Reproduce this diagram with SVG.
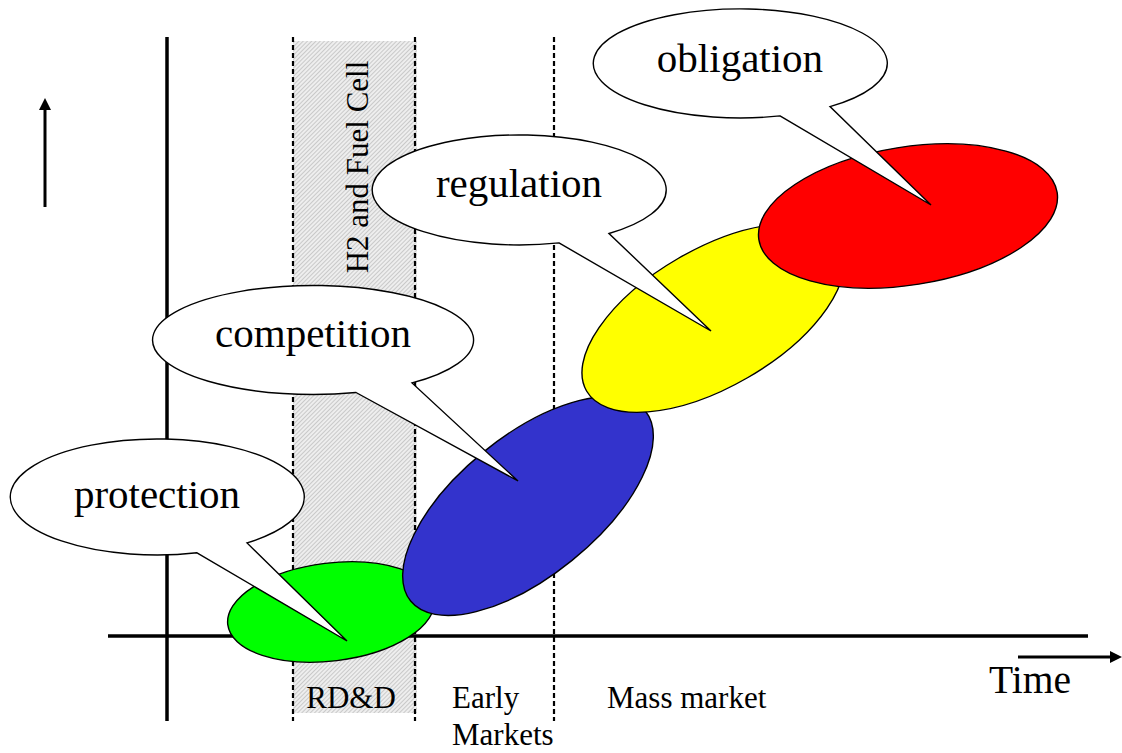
<svg xmlns="http://www.w3.org/2000/svg" width="1122" height="753" viewBox="0 0 1122 753">
<style>
.lbl{font-family:"Liberation Serif","Times New Roman",serif;fill:#000}
.big{font-size:41px;text-anchor:middle}
.small{font-size:31px}
.dash{stroke:#000;stroke-width:2.2;stroke-dasharray:5 3;fill:none}
.axis{stroke:#000;stroke-width:3.5;fill:none;stroke-linecap:butt}
.blob{stroke:#000;stroke-width:1.4}
.bubble{fill:#fff;stroke:#000;stroke-width:1.4;stroke-linejoin:miter}
.arrow{stroke:#000;stroke-width:3;fill:none}
</style>
<defs>
<pattern id="hatch" patternUnits="userSpaceOnUse" width="3" height="3" patternTransform="rotate(45)">
<rect width="3" height="3" fill="#eeeeee"/>
<line x1="0" y1="0" x2="0" y2="3" stroke="#aaaaaa" stroke-width="1.1"/>
</pattern>
<marker id="head" viewBox="0 0 12 12" refX="1" refY="6" markerWidth="12" markerHeight="12" markerUnits="userSpaceOnUse" orient="auto">
<path d="M0,0 L12,6 L0,12 z" fill="#000"/>
</marker>
</defs>
<rect width="1122" height="753" fill="#fff"/>

<g id="band">
<rect x="293" y="41" width="124" height="672" fill="url(#hatch)"/>
<text class="lbl small" text-anchor="middle" transform="translate(368,167) rotate(-90)">H2 and Fuel Cell</text>
</g>
<g id="phase-lines">
<line class="dash" x1="293" y1="37" x2="293" y2="721"/>
<line class="dash" x1="415" y1="37" x2="415" y2="721"/>
<line class="dash" x1="554" y1="37" x2="554" y2="721"/>
</g>
<g id="axes">
<line class="axis" x1="167" y1="37" x2="167" y2="721"/>
<line class="axis" x1="108" y1="636" x2="1088" y2="636"/>
</g>

<g id="stage-green"><ellipse class="blob" cx="331" cy="612" rx="104" ry="49" transform="rotate(-7 331 612)" fill="#00ff00"/></g>
<g id="stage-blue"><ellipse class="blob" cx="528" cy="506" rx="151" ry="70" transform="rotate(-39 528 506)" fill="#3333cc"/></g>
<g id="stage-yellow"><ellipse class="blob" cx="713" cy="318" rx="146" ry="69" transform="rotate(-30 713 318)" fill="#ffff00"/></g>
<g id="stage-red"><ellipse class="blob" cx="908" cy="216" rx="151" ry="69" transform="rotate(-9 908 216)" fill="#ff0000"/></g>

<g id="bubble-protection">
<path class="bubble" d="M197,552.8 L347,641 L247,542.9 A147,58 0 1 0 197,552.8 Z"/>
<text class="lbl big" x="157" y="508">protection</text>
</g>
<g id="bubble-competition">
<path class="bubble" d="M356,392.5 L518,481 L412,382.9 A160.5,54.5 0 1 0 356,392.5 Z"/>
<text class="lbl big" x="313" y="347">competition</text>
</g>
<g id="bubble-regulation">
<path class="bubble" d="M559,242.9 L711,331 L609,233.5 A147,55 0 1 0 559,242.9 Z"/>
<text class="lbl big" x="519" y="197">regulation</text>
</g>
<g id="bubble-obligation">
<path class="bubble" d="M780,115.9 L931,205 L830,106.6 A147,54.5 0 1 0 780,115.9 Z"/>
<text class="lbl big" x="740" y="72">obligation</text>
</g>

<g id="connectors">
<line class="arrow" x1="45" y1="207" x2="45" y2="109" marker-end="url(#head)"/>
<line class="arrow" x1="1018" y1="657" x2="1111" y2="657" marker-end="url(#head)"/>
</g>

<g id="labels">
<text class="lbl small" x="351" y="708" text-anchor="middle">RD&amp;D</text>
<text class="lbl small" x="452" y="708">Early</text>
<text class="lbl small" x="452" y="745">Markets</text>
<text class="lbl small" x="607" y="708">Mass market</text>
<text class="lbl" x="989" y="693" font-size="41" textLength="82" lengthAdjust="spacingAndGlyphs">Time</text>
</g>
</svg>
